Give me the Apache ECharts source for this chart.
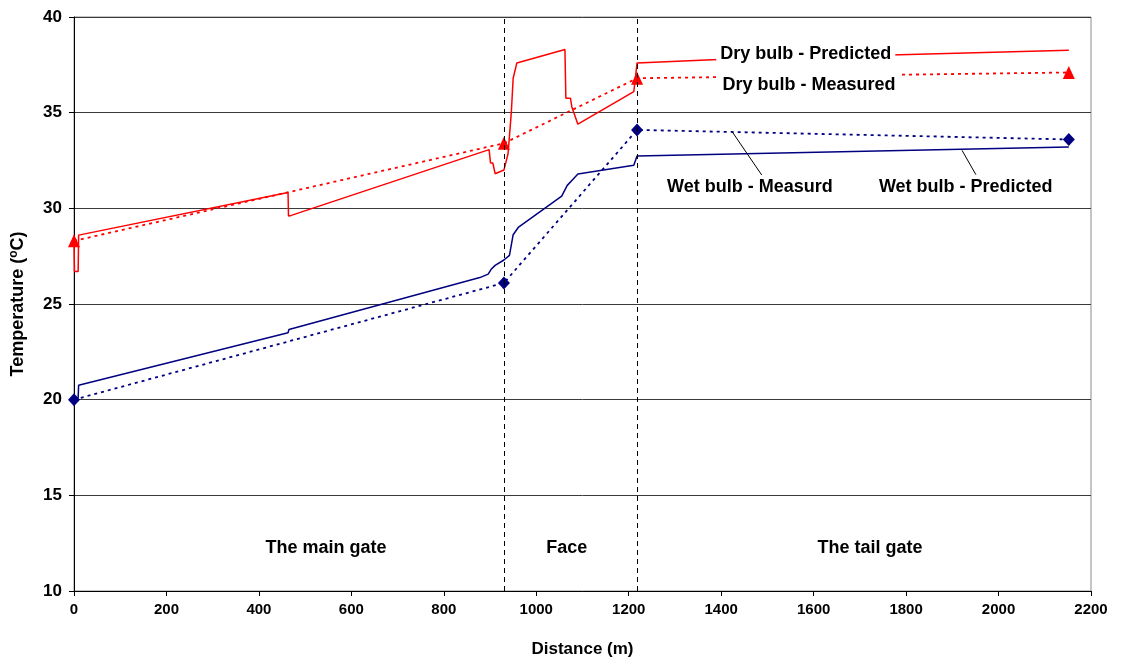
<!DOCTYPE html>
<html>
<head>
<meta charset="utf-8">
<title>Temperature along the longwall</title>
<script src="https://cdn.jsdelivr.net/npm/echarts@6/dist/echarts.min.js"></script>
<style>
  html, body { margin: 0; padding: 0; background: #fff; }
  #chart { width: 1123px; height: 668px; }
</style>
</head>
<body>
<div id="chart"></div>
<script>
// Predicted dry-bulb temperature along the airway (distance in m, temperature in °C)
const dryPredDist = [0, 1, 9, 10, 463, 464, 470, 898, 901, 906, 911, 930, 939, 946, 950, 958, 1062, 1064, 1074, 1077, 1090, 1211, 1218, 1380, 2152];
const dryPredTemp = [28.4, 26.7, 26.7, 28.6, 30.83, 29.6, 29.63, 33.07, 32.37, 32.37, 31.81, 32.0, 32.86, 35.0, 36.8, 37.6, 38.3, 35.75, 35.75, 35.3, 34.4, 36.1, 37.6, 37.77, 38.26];

// Predicted wet-bulb temperature
const wetPredDist = [0, 9, 10, 463, 465, 878, 896, 902, 911, 930, 942, 950, 961, 1055, 1067, 1077, 1090, 1211, 1218, 2152];
const wetPredTemp = [20.0, 20.1, 20.75, 23.5, 23.67, 26.38, 26.56, 26.8, 27.02, 27.3, 27.54, 28.62, 29.0, 30.64, 31.2, 31.46, 31.8, 32.25, 32.73, 33.2];

// Measured stations
const measDist = [0, 930, 1218, 2152];
const dryMeasTemp = [28.3, 33.4, 36.8, 37.1];
const wetMeasTemp = [20.0, 26.1, 34.1, 33.6];

// Boundaries between main gate, face and tail gate
const zoneBounds = [930, 1218];

// Text annotations: position (distance, temperature) and text
const noteDist = [1583, 1590, 1462, 1929, 545, 1066, 1722];
const noteTemp = [38.05, 36.43, 31.1, 31.1, 12.27, 12.27, 12.27];
const noteText = ['Dry bulb - Predicted', 'Dry bulb - Measured', 'Wet bulb - Measurd', 'Wet bulb - Predicted', 'The main gate', 'Face', 'The tail gate'];

// Leader lines from labels to curves: [[x1, y1], [x2, y2]]
const leaders = [
  [[1423, 34.03], [1488, 31.73]],
  [[1921, 33.03], [1951, 31.76]]
];

const yTicks = { min: 10, max: 40, step: 5 };
const xTicks = { min: 0, max: 2200, step: 200 };

const zip = (xs, ys) => xs.map((x, i) => [x, ys[i]]);
const FONT = "'Liberation Sans', Arial, sans-serif";

const chart = echarts.init(document.getElementById('chart'));

chart.setOption({
  animation: false,
  backgroundColor: '#fff',
  grid: {
    left: 74, right: 32, top: 17, bottom: 77,
    containLabel: false,
    outerBoundsMode: 'none',
    show: true, borderColor: '#8a8a8a', borderWidth: 1, backgroundColor: 'transparent'
  },
  xAxis: {
    type: 'value',
    min: xTicks.min, max: xTicks.max, interval: xTicks.step,
    name: 'Distance (m)',
    nameLocation: 'middle',
    nameGap: 50,
    nameTextStyle: { fontFamily: FONT, fontWeight: 'bold', fontSize: 17, color: '#000' },
    axisLine: { show: true, lineStyle: { color: '#000', width: 1 } },
    axisTick: { show: true, inside: false, length: 5, lineStyle: { color: '#000' } },
    axisLabel: {
      fontFamily: FONT, fontWeight: 'bold', fontSize: 15, color: '#000', margin: 11,
      formatter: v => String(v)
    },
    splitLine: { show: false }
  },
  yAxis: {
    type: 'value',
    min: yTicks.min, max: yTicks.max, interval: yTicks.step,
    name: 'Temperature ({sup|o}C)',
    nameLocation: 'middle',
    nameRotate: 90,
    nameGap: 46,
    nameTextStyle: {
      fontFamily: FONT, fontWeight: 'bold', fontSize: 18, color: '#000',
      rich: {
        sup: { fontFamily: FONT, fontWeight: 'bold', fontSize: 12, color: '#000', verticalAlign: 'top', padding: [0, 0, 8, 0] }
      }
    },
    axisLine: { show: true, lineStyle: { color: '#000', width: 1 } },
    axisTick: { show: true, inside: false, length: 5, lineStyle: { color: '#000' } },
    axisLabel: { fontFamily: FONT, fontWeight: 'bold', fontSize: 17, color: '#000', margin: 12 },
    splitLine: { show: true, lineStyle: { color: '#3a3a3a', width: 1 } }
  },
  series: [
    {
      name: 'Dry bulb - Predicted',
      type: 'line',
      data: zip(dryPredDist, dryPredTemp),
      showSymbol: false, symbol: 'none',
      lineStyle: { color: '#ff0000', width: 1.5 },
      z: 3,
      markLine: {
        silent: true,
        symbol: ['none', 'none'],
        label: { show: false },
        lineStyle: { color: '#000', type: [5, 4], width: 1 },
        data: zoneBounds.map(x => ({ xAxis: x }))
      }
    },
    {
      name: 'Dry bulb - Measured',
      type: 'line',
      data: zip(measDist, dryMeasTemp),
      symbol: 'triangle', symbolSize: [12, 13],
      itemStyle: { color: '#ff0000' },
      lineStyle: { color: '#ff0000', width: 1.8, type: [3, 4] },
      z: 3
    },
    {
      name: 'Wet bulb - Predicted',
      type: 'line',
      data: zip(wetPredDist, wetPredTemp),
      showSymbol: false, symbol: 'none',
      lineStyle: { color: '#000080', width: 1.5 },
      z: 3
    },
    {
      name: 'Wet bulb - Measured',
      type: 'line',
      data: zip(measDist, wetMeasTemp),
      symbol: 'diamond', symbolSize: [12, 13],
      itemStyle: { color: '#000080' },
      lineStyle: { color: '#000080', width: 1.8, type: [3, 4] },
      z: 3,
      markLine: {
        silent: true,
        symbol: ['none', 'none'],
        label: { show: false },
        lineStyle: { color: '#000', type: 'solid', width: 1 },
        data: leaders.map(([a, b]) => [{ coord: a }, { coord: b }])
      }
    },
    {
      name: 'notes',
      type: 'scatter',
      data: noteDist.map((x, i) => ({ value: [x, noteTemp[i]], name: noteText[i] })),
      symbolSize: 0,
      silent: true,
      z: 6,
      itemStyle: { opacity: 1 },
      label: {
        show: true,
        position: 'inside',
        formatter: p => p.name,
        fontFamily: FONT, fontWeight: 'bold', fontSize: 18, color: '#000',
        backgroundColor: '#fff',
        opacity: 1,
        padding: [3, 4]
      }
    }
  ]
});
</script>
</body>
</html>
